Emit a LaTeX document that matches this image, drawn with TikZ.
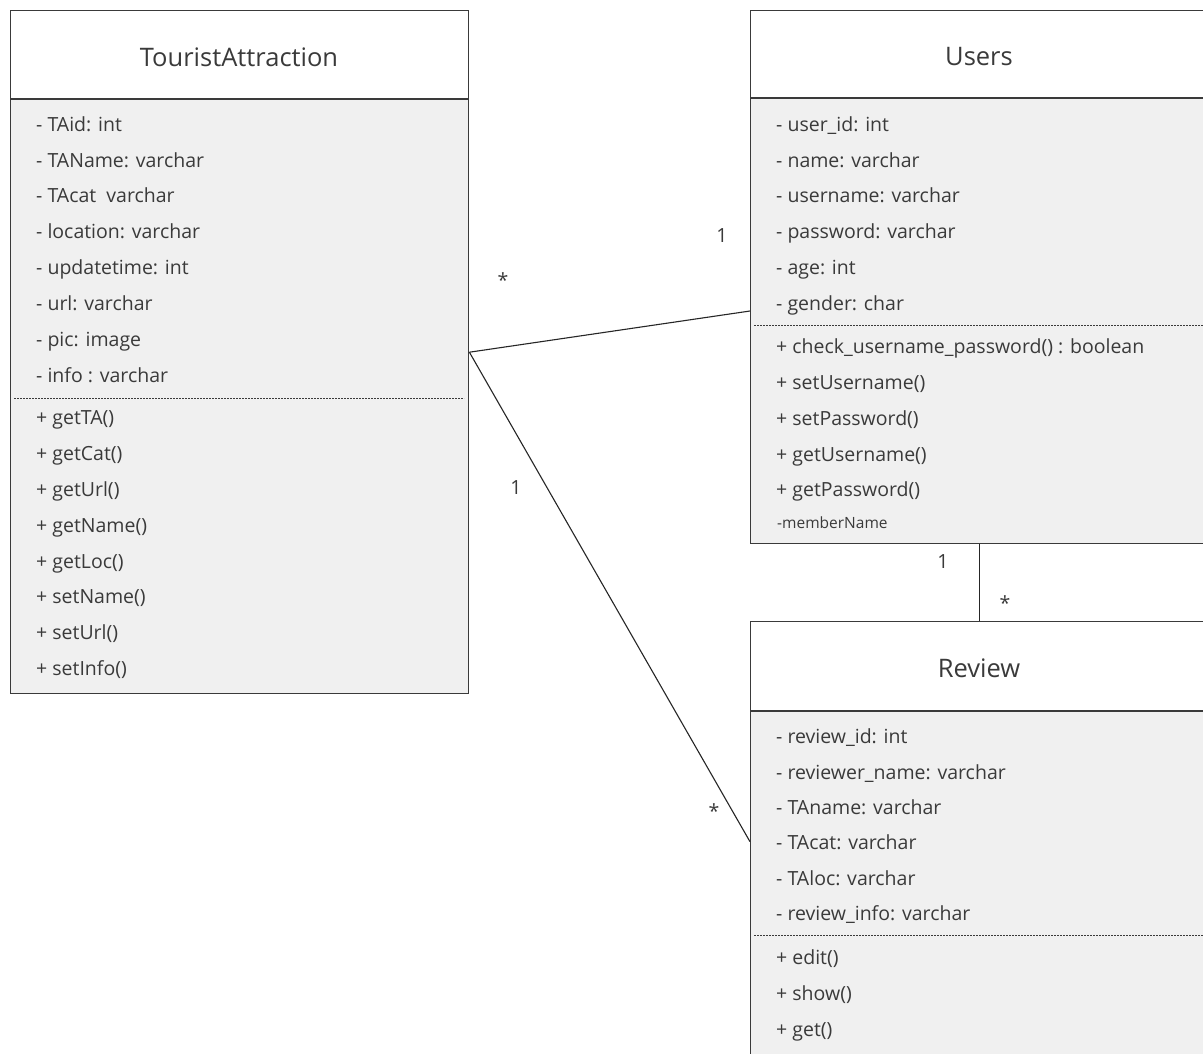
\documentclass[tikz,border=0pt]{standalone}
\usepackage{fontspec}
\setmainfont{Open Sans}
\usetikzlibrary{positioning}
\definecolor{bodygray}{HTML}{F0F0F0}
\definecolor{inkgray}{HTML}{3A3A3A}
\tikzset{classbox/.style={draw=inkgray, line width=1.4pt, rectangle, inner sep=0pt, anchor=north west}}
\tikzset{classrule/.style={draw=inkgray, line width=1.4pt}}
\tikzset{oprule/.style={draw=inkgray, line width=0.9pt, dash pattern=on 2pt off 1pt}}
\tikzset{title/.style={font=\fontsize{25.5}{30}\selectfont, text=inkgray}}
\tikzset{member/.style={anchor=west, inner sep=0pt, text height=14pt, text depth=5pt, font=\fontsize{19.5}{23}\selectfont, text=inkgray}}
\tikzset{mult/.style={font=\fontsize{19.5}{23}\selectfont, text=inkgray}}
\tikzset{link/.style={draw=black!85, line width=1.1pt}}

\begin{document}
\begin{tikzpicture}[x=1pt,y=-1pt]
\useasboundingbox (0,0) rectangle (1203,1053);
\clip (0,0) rectangle (1203,1053);
\fill[white] (0,0) rectangle (1203,1053);

% TouristAttraction
\fill[bodygray] (10,99) rectangle (468,693);
\node[classbox, minimum width=458pt, minimum height=683pt] (ta) at (10,10) {};
\draw[classrule] (ta.west |- 0,99) -- (ta.east |- 0,99);
\draw[oprule] (14,398) -- (464,398);
\node[title] (taname) at (239,57) {TouristAttraction};
\node[member] (ta1) at (36,127) {- TAid: int};
\node[member] (ta2) at (36,163) {- TAName: varchar};
\node[member] (ta3) at (36,198) {- TAcat\ \ varchar};
\node[member] (ta4) at (36,234) {- location: varchar};
\node[member] (ta5) at (36,270) {- updatetime: int};
\node[member] (ta6) at (36,306) {- url: varchar};
\node[member] (ta7) at (36,342) {- pic: image};
\node[member] (ta8) at (36,378) {- info : varchar};
\node[member] (tam1) at (36,420) {+ getTA()};
\node[member] (tam2) at (36,456) {+ getCat()};
\node[member] (tam3) at (36,492) {+ getUrl()};
\node[member] (tam4) at (36,528) {+ getName()};
\node[member] (tam5) at (36,564) {+ getLoc()};
\node[member] (tam6) at (36,599) {+ setName()};
\node[member] (tam7) at (36,635) {+ setUrl()};
\node[member] (tam8) at (36,671) {+ setInfo()};

% Users
\fill[bodygray] (750,98) rectangle (1208,543);
\node[classbox, minimum width=458pt, minimum height=533pt] (users) at (750,10) {};
\draw[classrule] (users.west |- 0,98) -- (users.east |- 0,98);
\draw[oprule] (754,325) -- (1208,325);
\node[title] (usersname) at (979,57) {Users};
\node[member] (u1) at (776,127) {- user\_id: int};
\node[member] (u2) at (776,163) {- name: varchar};
\node[member] (u3) at (776,198) {- username: varchar};
\node[member] (u4) at (776,234) {- password: varchar};
\node[member] (u5) at (776,270) {- age: int};
\node[member] (u6) at (776,306) {- gender: char};
\node[member] (um1) at (776,349) {+ check\_username\_password() : boolean};
\node[member] (um2) at (776,385) {+ setUsername()};
\node[member] (um3) at (776,421) {+ setPassword()};
\node[member] (um4) at (776,457) {+ getUsername()};
\node[member] (um5) at (776,492) {+ getPassword()};
\node[member, font=\fontsize{15.5}{18}\selectfont] (um6) at (777,524) {-memberName};

% Review
\fill[bodygray] (750,711) rectangle (1208,1061);
\node[classbox, minimum width=458pt, minimum height=440pt] (review) at (750,621) {};
\draw[classrule] (review.west |- 0,711) -- (review.east |- 0,711);
\draw[oprule] (754,935) -- (1208,935);
\node[title] (reviewname) at (979,668) {Review};
\node[member] (r1) at (776,739) {- review\_id: int};
\node[member] (r2) at (776,775) {- reviewer\_name: varchar};
\node[member] (r3) at (776,810) {- TAname: varchar};
\node[member] (r4) at (776,845) {- TAcat: varchar};
\node[member] (r5) at (776,881) {- TAloc: varchar};
\node[member] (r6) at (776,916) {- review\_info: varchar};
\node[member] (rm1) at (776,960) {+ edit()};
\node[member] (rm2) at (776,996) {+ show()};
\node[member] (rm3) at (776,1032) {+ get()};

% associations
\coordinate (uLink) at (750,311);
\draw[link] (ta.east) -- (uLink);
\draw[link] (ta.east) -- (review.west);
\draw[link] (users.south) -- (review.north);
\node[mult] (m1) at (503,280) {*};
\node[mult] (m2) at (722,236) {1};
\node[mult] (m3) at (516,488) {1};
\node[mult] (m4) at (714,811) {*};
\node[mult] (m5) at (943,562) {1};
\node[mult] (m6) at (1005,603) {*};
\end{tikzpicture}
\end{document}
